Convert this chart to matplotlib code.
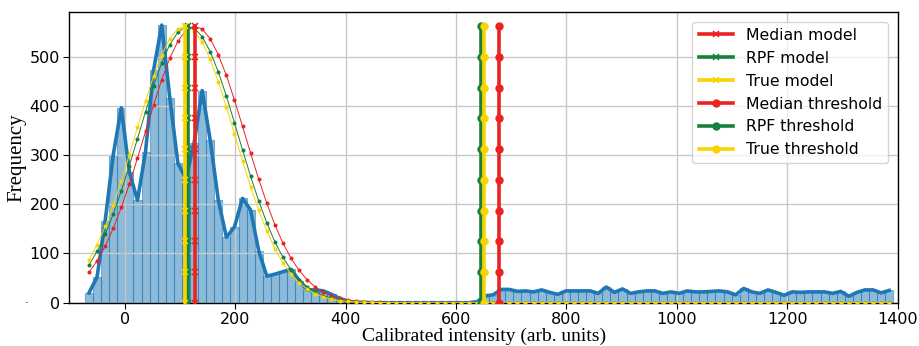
import numpy as np
import matplotlib
matplotlib.use('Agg')
import matplotlib.pyplot as plt

##Data
#Histogram of calibrated intensities (100 equal bins)
bin_start = -72.0
bin_width = 14.64
counts = [20, 52, 166, 300, 396, 265, 208, 307, 473, 564,
          416, 283, 252, 324, 431, 330, 208, 133, 154, 212,
          188, 105, 54, 58, 63, 68, 45, 26, 26, 24,
          17, 9, 3, 1, 1, 0, 0, 0, 0, 0,
          0, 0, 0, 0, 0, 0, 0, 0, 2, 14,
          16, 27, 27, 23, 24, 22, 26, 21, 17, 24,
          24, 24, 24, 19, 32, 21, 28, 19, 22, 24,
          24, 19, 22, 19, 24, 22, 22, 23, 24, 22,
          16, 29, 22, 19, 26, 21, 15, 22, 21, 22,
          22, 22, 19, 23, 13, 21, 26, 26, 20, 25]

#Fitted model curves, evaluated at the bin centres
median_curve = [61.5, 85.2, 114.8, 151.1, 193.5, 241.4, 293.6, 348.0, 402.3, 452.9,
                496.8, 531.1, 553.4, 562.0, 556.0, 536.2, 503.9, 461.6, 411.7, 358.1,
                303.5, 250.8, 201.9, 158.2, 120.9, 90.1, 65.5, 46.3, 31.9, 21.4,
                14.0, 9.0, 5.6, 3.4, 2.0, 1.1, 0.6, 0.3, 0.2, 0.1] + [0.0] * 60
rpf_curve = [76.5, 104.5, 138.9, 180.0, 227.0, 278.7, 333.3, 388.3, 440.9, 487.2,
             524.4, 549.7, 561.4, 558.3, 540.7, 510.1, 468.8, 419.6, 365.4, 310.3,
             256.6, 206.7, 162.1, 123.7, 92.1, 66.7, 47.1, 32.4, 21.6, 14.1,
             9.0, 5.6, 3.3, 2.0, 1.1, 0.6, 0.3, 0.2, 0.1, 0.0] + [0.0] * 60
true_curve = [87.3, 117.8, 154.9, 198.7, 247.7, 300.9, 356.0, 410.3, 460.8, 503.8,
              536.4, 556.3, 561.9, 552.7, 529.6, 494.3, 449.3, 397.9, 342.8, 287.9,
              235.5, 187.7, 145.7, 109.9, 80.9, 58.0, 40.5, 27.6, 18.2, 11.8,
              7.4, 4.5, 2.7, 1.6, 0.9, 0.5, 0.3, 0.1, 0.1, 0.0] + [0.0] * 60

#Model centres and thresholds
model_pos = {'Median': 126.7, 'RPF': 115.1, 'True': 109.1}
threshold_pos = {'Median': 677.4, 'RPF': 645.4, 'True': 650.3}
line_heights = [0, 62.4, 124.9, 187.3, 249.8, 312.2, 374.7, 437.1, 499.6, 562.0]

colors = {'Median': '#ea2320', 'RPF': '#17803a', 'True': '#fad400'}
curves = {'Median': median_curve, 'RPF': rpf_curve, 'True': true_curve}

##Figure
fig = plt.figure(figsize=(9.19, 3.46), dpi=100)
ax = fig.add_axes([0.0756, 0.1251, 0.9012, 0.8394])

edges = bin_start + bin_width * np.arange(len(counts) + 1)
centers = 0.5 * (edges[:-1] + edges[1:])

#Histogram bars + outline
ax.bar(edges[:-1], counts, width=bin_width, align='edge', color='#1f77b4',
       alpha=0.5, edgecolor='#1f77b4', linewidth=0.8, zorder=1)
ax.plot(centers, counts, color='#1f77b4', linewidth=2.6, zorder=3)

#Gaussian model curves
for name in ['Median', 'RPF', 'True']:
    ax.plot(centers, curves[name], color=colors[name], linewidth=0.7,
            marker='o', markersize=1.9, zorder=4)

#Vertical model lines
for name in ['Median', 'RPF', 'True']:
    ax.plot([model_pos[name]] * len(line_heights), line_heights, color=colors[name],
            linewidth=2.6, marker='x', markersize=4.5, markeredgewidth=1.1,
            label=name + ' model', zorder=5)

#Vertical threshold lines
for name in ['Median', 'RPF', 'True']:
    ax.plot([threshold_pos[name]] * len(line_heights), line_heights, color=colors[name],
            linewidth=2.6, marker='o', markersize=5, label=name + ' threshold', zorder=5)

ax.set_xlim(-100, 1400)
ax.set_ylim(0, 590)
ax.set_xticks([0, 200, 400, 600, 800, 1000, 1200, 1400])
ax.set_yticks([0, 100, 200, 300, 400, 500])
ax.tick_params(labelsize=11.5, length=4, pad=3)
ax.grid(True, color='#c8c8c8', linewidth=1.0)
for sp in ax.spines.values():
    sp.set_color('black')
    sp.set_linewidth(1.0)

ax.set_xlabel('Calibrated intensity (arb. units)', family='Liberation Serif',
              fontsize=14, labelpad=0)
ax.set_ylabel('Frequency', family='Liberation Serif', fontsize=15, labelpad=2)

ax.legend(loc='upper right', fontsize=11.3, handlelength=2.2, borderaxespad=0.6,
          labelspacing=0.5)

fig.text(0.027, 0.125, '.', fontsize=8)

plt.savefig('out.png', dpi=100)
